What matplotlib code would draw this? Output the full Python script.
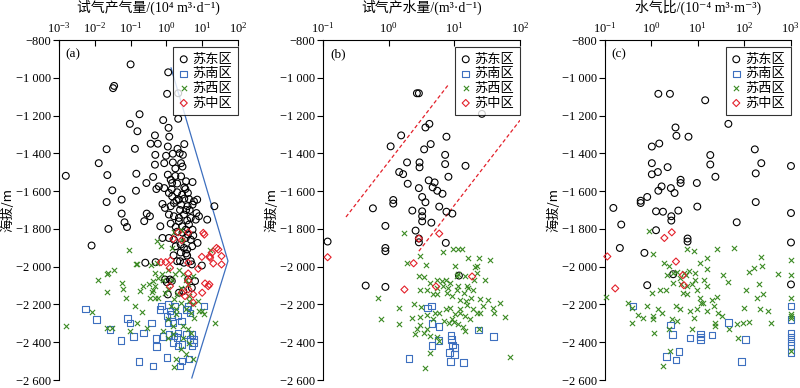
"""Elevation vs gas / water production and water-gas ratio for four districts."""

import matplotlib.pyplot as plt
from matplotlib.font_manager import FontProperties
from matplotlib.ticker import FixedLocator, FuncFormatter, LogLocator, NullLocator
import numpy as np

plt.rcParams["font.family"] = ["Liberation Serif", "DejaVu Serif", "Noto Sans CJK SC"]
plt.rcParams["mathtext.fontset"] = "stix"

ZONES = ["苏东区", "苏南区", "苏西区", "苏中区"]
Y_TICKS = [-800, -1000, -1200, -1400, -1600, -1800, -2000, -2200, -2400, -2600]
CJK = ["Noto Sans CJK SC", "Liberation Serif", "DejaVu Serif"]

# each entry: (log10 of x value, elevation in m)
# (a) gas production, 10^4 m3/d
gas_east = [
    (-1.00, -929), (0.05, -971), (-1.46, -1043), (-1.49, -1055), (0.02, -1085),
    (0.33, -1082), (-0.75, -1193), (-1.02, -1244), (-0.81, -1283), (-0.09, -1224),
    (0.06, -1265), (0.33, -1217), (0.08, -1312), (-0.32, -1305), (-0.44, -1349),
    (-0.24, -1349), (0.04, -1364), (0.31, -1376), (0.50, -1351), (-1.67, -1378),
    (-0.88, -1376), (-0.31, -1408), (-0.01, -1413), (0.18, -1402), (0.37, -1399),
    (0.46, -1408), (-1.89, -1452), (-0.32, -1460), (-0.06, -1452), (0.18, -1448),
    (0.41, -1452), (-2.81, -1519), (-1.65, -1515), (-0.84, -1508), (-0.37, -1525),
    (0.04, -1513), (0.12, -1540), (0.16, -1557), (0.41, -1522), (0.55, -1548),
    (0.73, -1552), (-0.56, -1557), (-0.21, -1575), (-0.28, -1589), (-0.06, -1584),
    (0.07, -1610), (0.30, -1606), (0.53, -1589), (-1.51, -1596), (-0.85, -1598),
    (-1.67, -1658), (-1.25, -1645), (0.16, -1628), (0.35, -1645), (0.44, -1619),
    (0.63, -1642), (0.77, -1654), (0.86, -1645), (-0.11, -1668), (-0.04, -1689),
    (0.12, -1680), (0.21, -1663), (0.41, -1672), (0.59, -1680), (0.73, -1672),
    (1.34, -1680), (-1.25, -1719), (-0.55, -1719), (-0.62, -1759), (-0.46, -1733),
    (-1.17, -1765), (-1.10, -1790), (0.07, -1724), (0.21, -1733), (0.35, -1742),
    (0.49, -1724), (0.68, -1742), (0.82, -1751), (0.91, -1733), (1.14, -1751),
    (0.84, -1716), (-1.62, -1800), (-0.17, -1786), (0.12, -1772), (0.26, -1790),
    (0.44, -1786), (0.63, -1777), (0.73, -1804), (0.54, -1804), (-0.11, -1848),
    (0.07, -1848), (0.21, -1857), (0.54, -1848), (0.68, -1857), (0.75, -1835),
    (0.87, -1874), (-2.09, -1888), (0.26, -1892), (0.40, -1883), (0.49, -1901),
    (0.58, -1909), (0.72, -1892), (-0.59, -1979), (-0.30, -1976), (0.30, -1971),
    (0.49, -1979), (0.58, -1941), (0.68, -1971), (0.38, -1971), (0.71, -1988),
    (0.99, -1994), (0.01, -2082), (0.15, -2076), (0.04, -2147), (0.61, -2068),
    (0.80, -2076), (0.71, -2112), (0.35, -2138), (0.47, -2129), (-0.04, -2068),
    (0.10, -2068), (0.25, -1520), (0.30, -1560), (0.50, -1580), (0.60, -1610),
    (0.38, -1700), (0.55, -1700), (0.30, -1815), (0.45, -1820), (0.60, -1830),
    (0.40, -1925), (0.55, -1930), (0.20, -1940), (0.35, -1760), (0.58, -1755),
    (0.65, -1700), (0.28, -1650), (0.50, -1640), (0.45, -1470), (0.25, -1480),
    (0.15, -1590),
]
gas_south = [
    (-2.26, -2223), (-1.95, -2279), (-1.58, -2332), (-1.27, -2392), (-1.08, -2275),
    (-1.01, -2297), (-0.92, -2371), (-0.64, -2350), (-0.41, -2297), (-0.29, -2379),
    (-0.09, -2371), (-0.27, -2423), (-0.77, -2503), (-0.37, -2526), (-0.18, -2226),
    (-0.13, -2209), (0.05, -2200), (0.10, -2235), (0.24, -2209), (0.14, -2253),
    (0.01, -2261), (0.33, -2261), (0.19, -2297), (0.05, -2297), (0.42, -2288),
    (0.56, -2226), (0.66, -2244), (0.61, -2209), (1.05, -2209), (0.07, -2358),
    (0.21, -2367), (0.33, -2350), (0.19, -2402), (0.33, -2420), (0.43, -2411),
    (0.29, -2376), (0.56, -2358), (0.71, -2358), (0.66, -2385), (0.75, -2385),
    (0.71, -2420), (0.75, -2402), (0.01, -2481), (0.43, -2499), (0.38, -2526),
    (0.63, -2490),
]
gas_west = [
    (-1.04, -1914), (-0.27, -1863), (-0.16, -1893), (0.16, -1899), (0.21, -1814),
    (0.40, -1805), (0.44, -1858), (1.22, -1911), (-0.85, -1988), (-0.42, -1992),
    (-0.81, -1988), (-1.90, -2071), (-1.67, -2041), (-1.62, -2032), (-1.45, -2015),
    (-1.67, -2135), (-1.25, -2085), (-1.20, -2120), (-1.13, -2164), (-0.74, -2129),
    (-0.64, -2103), (-0.50, -2094), (-0.37, -2076), (-0.32, -2103), (-0.41, -2135),
    (-0.23, -2059), (-0.46, -2164), (-0.23, -2164), (-0.88, -2209), (-0.67, -2240),
    (-2.09, -2240), (-2.81, -2314), (-1.67, -2323), (-1.51, -2323), (-1.02, -2341),
    (-0.83, -2297), (-0.55, -2323), (0.04, -2279), (0.18, -2314), (-0.09, -2341),
    (0.19, -2358), (0.05, -2376), (0.26, -2253), (0.40, -2191), (0.54, -2226),
    (0.68, -2244), (0.77, -2270), (0.91, -2235), (0.87, -2182), (0.73, -2200),
    (0.63, -2156), (0.35, -2015), (0.45, -2041), (0.54, -2068), (0.59, -2094),
    (0.73, -2050), (0.40, -2112), (0.31, -2147), (0.22, -2173), (0.63, -2182),
    (0.12, -2209), (0.26, -2226), (0.45, -2314), (0.59, -2332), (0.68, -2350),
    (0.45, -2376), (0.63, -2402), (0.40, -2437), (0.26, -2490), (0.54, -2464),
    (0.73, -2490), (1.36, -2297), (0.22, -2531), (1.00, -2235), (1.04, -2253),
    (-0.32, -2032), (-0.13, -2041), (0.05, -2015), (0.24, -2041), (0.15, -2068),
    (-0.09, -2068), (-0.04, -2138), (0.05, -2120), (-0.27, -1980), (-0.37, -2121),
    (-0.32, -2165),
]
gas_mid = [
    (0.33, -1818), (0.61, -1818), (1.06, -1830), (1.40, -1901), (1.27, -1927),
    (0.99, -1948), (1.22, -1953), (1.54, -1944), (0.19, -1853), (0.43, -1860),
    (-0.02, -1976), (0.12, -1966), (-0.15, -1976), (0.10, -2006), (0.61, -1980),
    (0.89, -2011), (1.31, -1983), (1.54, -1988), (0.10, -2103), (0.61, -2076),
    (0.61, -2120), (0.75, -2147), (1.08, -2089), (1.17, -2103), (0.61, -2036),
    (1.00, -2138), (0.52, -2156), (0.43, -2138), (0.75, -2191), (1.03, -1821),
    (1.45, -1909), (1.21, -1945), (1.20, -2094),
]
gas_bound = [(0.13, -948), (1.72, -1970), (0.71, -2589)]

# (b) water production, m3/d
water_east = [
    (0.43, -1082), (0.46, -1082), (1.42, -1191), (0.62, -1244), (0.56, -1263),
    (0.19, -1305), (0.88, -1312), (0.03, -1363), (0.64, -1351), (0.54, -1379),
    (0.86, -1408), (0.28, -1448), (0.47, -1448), (0.86, -1457), (0.47, -1474),
    (1.17, -1466), (0.16, -1499), (0.22, -1510), (0.91, -1524), (0.29, -1561),
    (0.61, -1543), (0.70, -1554), (0.67, -1580), (0.74, -1598), (0.82, -1614),
    (0.46, -1584), (0.51, -1631), (0.56, -1659), (0.07, -1647), (0.07, -1666),
    (-0.24, -1691), (0.77, -1682), (0.36, -1703), (0.51, -1707), (0.51, -1733),
    (0.51, -1760), (0.88, -1709), (0.97, -1719), (0.65, -1767), (-0.05, -1784),
    (0.41, -1809), (0.46, -1851), (0.46, -1871), (0.87, -1874), (-0.93, -1867),
    (-0.05, -1901), (-0.05, -1918), (1.07, -2047), (-0.35, -2100), (-0.05, -2107),
]
water_south = [
    (0.65, -2209), (0.59, -2218), (0.66, -2302), (0.77, -2318), (0.95, -2364),
    (0.96, -2385), (1.37, -2334), (1.60, -2371), (0.76, -2390), (0.66, -2417),
    (0.97, -2415), (1.01, -2429), (0.93, -2455), (1.00, -2464), (0.31, -2485),
    (0.94, -2503), (1.14, -2508),
]
water_west = [
    (0.24, -1820), (0.47, -1941), (0.82, -1920), (0.98, -1906), (1.05, -1906),
    (1.11, -1906), (0.28, -1982), (0.57, -1992), (0.46, -2047), (0.54, -2054),
    (1.01, -1997), (1.06, -2038), (1.04, -2049), (1.21, -1955), (1.38, -1955),
    (1.54, -1966), (1.31, -2001), (1.35, -1997), (1.47, -2068), (1.30, -2073),
    (1.20, -2103), (0.73, -2068), (0.81, -2077), (0.88, -2068), (0.83, -2103),
    (0.91, -2112), (0.74, -2147), (0.68, -2147), (0.59, -2124), (0.47, -2124),
    (1.04, -2121), (1.14, -2138), (1.21, -2112), (1.29, -2121), (1.26, -2165),
    (1.18, -2182), (1.39, -2170), (1.44, -2209), (1.52, -2174), (1.59, -2218),
    (1.70, -2191), (1.60, -2244), (1.77, -2265), (-0.17, -2165), (0.16, -2218),
    (-0.11, -2279), (0.16, -2302), (0.38, -2196), (0.50, -2214), (0.36, -2270),
    (0.47, -2267), (0.58, -2258), (0.71, -2244), (0.68, -2276), (0.77, -2244),
    (0.87, -2226), (0.93, -2218), (1.01, -2248), (1.09, -2223), (1.16, -2262),
    (1.24, -2279), (1.35, -2244), (1.39, -2244), (0.92, -2300), (0.99, -2293),
    (1.06, -2306), (1.13, -2318), (1.16, -2341), (0.47, -2311), (0.43, -2329),
    (0.54, -2350), (0.58, -2332), (0.40, -2358), (0.63, -2367), (0.73, -2371),
    (0.77, -2394), (1.37, -2329), (0.63, -2455), (0.55, -2535), (1.85, -2476),
    (0.89, -2138), (0.96, -2156), (1.09, -2174), (1.19, -2205), (1.29, -2223),
    (0.73, -2112), (0.63, -2086), (0.94, -2086), (1.05, -2100), (1.34, -2033),
    (1.17, -2047), (1.09, -2244), (0.96, -2279), (0.84, -2288),
]
water_mid = [
    (-0.93, -1950), (0.77, -1825), (0.46, -1851), (0.38, -1982), (1.27, -2052),
    (0.72, -2105), (0.24, -2121),
]
water_upper = [(-0.65, -1737), (0.92, -1032)]
water_lower = [(0.46, -1918), (2.00, -1225)]

# (c) water-gas ratio, 10^-4 m3/m3
wgr_east = [
    (0.15, -1085), (0.40, -1085), (1.16, -1119), (1.66, -1244), (0.52, -1263),
    (0.54, -1307), (0.80, -1312), (0.01, -1364), (0.17, -1348), (2.23, -1379),
    (1.27, -1409), (1.27, -1459), (2.37, -1452), (3.01, -1467), (0.01, -1452),
    (0.14, -1499), (0.01, -1511), (0.35, -1473), (1.38, -1524), (2.25, -1506),
    (0.63, -1540), (0.63, -1557), (0.22, -1575), (0.15, -1598), (0.42, -1584),
    (0.50, -1610), (0.98, -1557), (-0.09, -1631), (-0.23, -1651), (-0.23, -1663),
    (2.25, -1658), (-0.82, -1689), (0.10, -1707), (0.25, -1709), (0.58, -1703),
    (0.99, -1682), (0.43, -1733), (0.43, -1756), (3.01, -1716), (1.84, -1765),
    (-0.65, -1777), (0.10, -1807), (0.78, -1851), (0.78, -1867), (3.01, -1872),
    (-0.68, -1901), (-0.15, -1927), (0.47, -2040), (-0.09, -2098), (3.01, -2094),
]
wgr_south = [
    (-0.40, -2207), (0.41, -2309), (0.45, -2358), (0.83, -2378), (1.06, -2357),
    (1.06, -2373), (1.06, -2385), (1.31, -2362), (1.66, -2295), (2.03, -2385),
    (0.33, -2475), (0.53, -2494), (0.60, -2448), (1.94, -2501), (3.01, -2209),
    (3.01, -2279), (3.01, -2350), (3.01, -2373), (3.01, -2395), (3.01, -2417),
    (3.01, -2455),
]
wgr_west = [
    (-0.05, -1809), (0.04, -1932), (0.76, -1904), (0.91, -1915), (1.42, -1906),
    (1.78, -1902), (0.28, -1983), (0.39, -1994), (1.05, -1980), (1.19, -1953),
    (1.21, -2012), (2.36, -1948), (2.38, -1994), (2.21, -2006), (2.10, -2027),
    (2.72, -2038), (1.55, -2042), (1.66, -2082), (3.01, -1964), (3.01, -2045),
    (0.55, -2027), (0.62, -2059), (0.71, -2033), (0.82, -2024), (0.93, -2033),
    (0.94, -2068), (1.13, -2068), (1.19, -2103), (0.68, -2138), (0.76, -2103),
    (0.47, -2089), (0.32, -2121), (0.19, -2121), (0.01, -2138), (0.98, -2121),
    (1.05, -2165), (1.12, -2191), (1.30, -2174), (1.41, -2160), (1.35, -2209),
    (1.44, -2244), (1.52, -2262), (2.05, -2124), (2.27, -2165), (2.33, -2094),
    (2.41, -2147), (2.34, -2226), (2.52, -2235), (2.00, -2218), (2.57, -2297),
    (3.01, -2165), (3.01, -2253), (3.01, -2262), (3.01, -2270), (3.01, -2447),
    (-0.98, -2160), (-0.50, -2191), (-0.42, -2218), (-0.28, -2258), (-0.42, -2297),
    (-0.17, -2270), (0.04, -2262), (0.04, -2279), (0.15, -2226), (0.22, -2244),
    (-0.10, -2209), (0.06, -2350), (0.37, -2332), (0.44, -2279), (0.53, -2209),
    (0.62, -2226), (0.56, -2288), (0.83, -2235), (0.91, -2270), (0.98, -2226),
    (0.87, -2332), (1.19, -2235), (1.37, -2297), (1.37, -2314), (1.68, -2332),
    (1.85, -2306), (1.97, -2297), (2.10, -2293), (1.86, -2376), (0.40, -2447),
    (0.26, -2526), (0.47, -2033), (0.64, -2094), (0.87, -2094), (1.06, -2191),
    (0.76, -2147), (0.33, -2042), (0.75, -2042),
]
wgr_mid = [
    (-0.95, -1946), (0.28, -1848), (0.44, -1818), (0.53, -1973), (0.68, -2045),
    (0.70, -2098), (-0.78, -2115),
]

STYLES = [
    dict(marker="o", facecolors="none", edgecolors="black", s=24, linewidths=0.8),
    dict(marker="s", facecolors="none", edgecolors="#3d6fbf", s=22, linewidths=0.8),
    dict(marker="x", c="#3b8a23", s=14, linewidths=0.8),
    dict(marker="D", facecolors="none", edgecolors="#e3202a", s=13, linewidths=0.8),
]


def elev_label(v, _pos):
    s = f"{abs(v):,.0f}".replace(",", " ")
    return "\u2212" + s if v < 0 else s


def draw_panel(ax, groups, xlim, xlabel, tag):
    for pts, zone, style in zip(groups, ZONES, STYLES):
        arr = np.array(pts, dtype=float)
        ax.scatter(10 ** arr[:, 0], arr[:, 1], label=zone, clip_on=False, zorder=3, **style)
    ax.set_xscale("log")
    ax.set_xlim(*xlim)
    ax.set_ylim(-2600, -800)
    ax.xaxis.set_major_locator(LogLocator(base=10, numticks=20))
    ax.xaxis.set_minor_locator(NullLocator())
    ax.yaxis.set_major_locator(FixedLocator(Y_TICKS))
    ax.yaxis.set_major_formatter(FuncFormatter(elev_label))
    ax.xaxis.tick_top()
    ax.xaxis.set_label_position("top")
    ax.spines["right"].set_visible(False)
    ax.spines["bottom"].set_visible(False)
    for side in ("left", "top"):
        ax.spines[side].set_linewidth(0.8)
    ax.tick_params(axis="x", which="major", direction="in", length=4, width=0.8,
                   labelsize=9, pad=3, top=True, bottom=False)
    ax.tick_params(axis="y", direction="out", length=4, width=0.8, labelsize=9, pad=2)
    ax.set_xlabel(xlabel, fontsize=10, labelpad=7)
    ax.set_ylabel("海拔/m", fontsize=9.5, labelpad=1, family=CJK)
    ax.text(0.035, 0.975, tag, transform=ax.transAxes, fontsize=9.5, va="top", ha="left")
    leg = ax.legend(loc="upper right", bbox_to_anchor=(1.0, 0.98), borderaxespad=0,
                    prop=FontProperties(family="Noto Sans CJK SC", size=9.5),
                    frameon=True, fancybox=False, edgecolor="black",
                    handletextpad=0.3, labelspacing=0.12, borderpad=0.45,
                    handlelength=0.7, scatterpoints=1)
    leg.get_frame().set_linewidth(0.8)


fig = plt.figure(figsize=(8.0, 3.88), dpi=100)
ax_a = fig.add_axes([0.07375, 0.0206, 0.22375, 0.8763])
ax_b = fig.add_axes([0.40375, 0.0206, 0.24625, 0.8763])
ax_c = fig.add_axes([0.75625, 0.0206, 0.2319, 0.8763])

draw_panel(ax_a, [gas_east, gas_south, gas_west, gas_mid], (1e-3, 1e2),
           "试气产气量/(10⁴ m³·d⁻¹)", "(a)")
bound = np.array(gas_bound, dtype=float)
ax_a.plot(10 ** bound[:, 0], bound[:, 1], color="#3d6fbf", lw=0.9, zorder=2)

draw_panel(ax_b, [water_east, water_south, water_west, water_mid], (1e-1, 1e2),
           "试气产水量/(m³·d⁻¹)", "(b)")
for seg in (water_upper, water_lower):
    s = np.array(seg, dtype=float)
    ax_b.plot(10 ** s[:, 0], s[:, 1], color="#e3202a", lw=0.9, ls=(0, (3, 2)), zorder=2)

draw_panel(ax_c, [wgr_east, wgr_south, wgr_west, wgr_mid], (1e-1, 1e3),
           "水气比/(10⁻⁴ m³·m⁻³)", "(c)")

fig.savefig("out.png", dpi=100)
